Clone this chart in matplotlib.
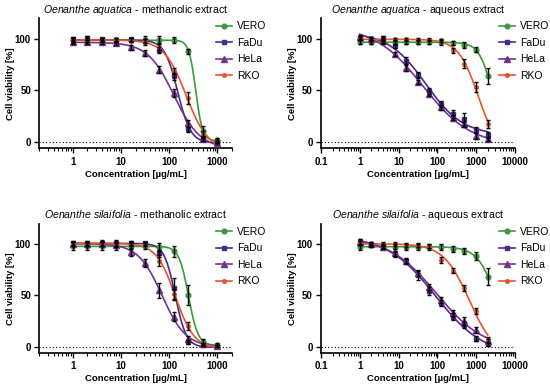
import numpy as np
import matplotlib
matplotlib.use('Agg')
import matplotlib.pyplot as plt
from matplotlib import font_manager
from matplotlib.lines import Line2D
from matplotlib.ticker import LogLocator, FuncFormatter, NullFormatter

names = {f.name for f in font_manager.fontManager.ttflist}
narrow = 'Liberation Sans Narrow' if 'Liberation Sans Narrow' in names else 'Liberation Sans'
title_size = 8.5 if narrow == 'Liberation Sans Narrow' else 7.6
plt.rcParams['font.family'] = ['Liberation Sans', 'DejaVu Sans']
plt.rcParams['mathtext.fontset'] = 'custom'
plt.rcParams['mathtext.rm'] = narrow
plt.rcParams['mathtext.it'] = narrow + ':italic'

# concentrations (µg/mL)
conc_meth = [1, 2, 4, 8, 16, 31.25, 62.5, 125, 250, 500, 1000]
conc_aq = [1, 2, 4, 8, 16, 31.25, 62.5, 125, 250, 500, 1000, 2000]

cell_lines = ['VERO', 'FaDu', 'HeLa', 'RKO']
colors = ['#3b9a3b', '#4a2a8a', '#73338f', '#e9542c']
markers = ['o', 's', '^', 'o']
msizes = [3.4, 3.4, 3.8, 2.6]

titles = [('Oenanthe\\ aquatica', 'methanolic extract'),
          ('Oenanthe\\ aquatica', 'aqueous extract'),
          ('Oenanthe\\ silaifolia', 'methanolic extract'),
          ('Oenanthe\\ silaifolia', 'aqueous extract')]

# O. aquatica - methanolic
aq_meth_mean = [
    [98.5, 98.7, 98.7, 98.7, 98.7, 98.5, 99.0, 99.2, 88.0, 11.0, 2.0],
    [99.5, 101.0, 99.5, 98.5, 99.5, 97.5, 89.5, 63.5, 12.5, 2.5, 0.5],
    [97.0, 97.0, 96.8, 95.8, 92.0, 86.0, 70.0, 47.5, 18.0, 2.5, -1.0],
    [98.5, 98.5, 98.5, 98.5, 98.5, 97.5, 92.0, 69.0, 42.5, 7.5, 0.0],
]
aq_meth_sd = [
    [2.5, 2, 2, 2, 2, 4, 3.5, 3, 2.5, 5, 1.5],
    [2, 2, 1.5, 2, 1.5, 2, 3, 3, 2.5, 1.5, 1],
    [2, 2, 2, 2, 2.5, 3, 3.5, 4, 3, 1.5, 1],
    [2, 2, 2, 2, 2, 2, 3, 3, 6, 3, 1],
]

# O. aquatica - aqueous
aq_aq_mean = [
    [97.0, 97.0, 97.0, 97.0, 97.0, 97.0, 96.7, 96.5, 96.0, 94.0, 89.5, 64.0],
    [100.5, 100.0, 100.5, 93.0, 79.0, 65.0, 49.5, 37.0, 27.5, 22.0, 11.5, 7.0],
    [102.0, 100.0, 98.0, 85.0, 71.5, 58.5, 47.0, 33.5, 23.5, 17.0, 5.5, 3.0],
    [100.0, 99.5, 99.5, 99.5, 99.5, 99.3, 99.0, 98.5, 89.0, 76.0, 53.5, 17.5],
]
aq_aq_sd = [
    [2, 2, 2, 2, 2, 2, 2, 2, 2, 3, 2.5, 8],
    [2, 1.5, 2.5, 2, 3, 3, 3, 3, 4, 6, 3, 3],
    [2, 1.5, 2, 2, 3, 2, 2, 2.5, 2.5, 2, 3, 2],
    [1.5, 1.5, 1.5, 1.5, 1.5, 1.5, 1.5, 1.5, 2.5, 4, 5, 3.5],
]

# O. silaifolia - methanolic
sil_meth_mean = [
    [98.0, 98.0, 98.0, 98.0, 98.0, 98.0, 97.5, 93.0, 50.5, 5.0, 2.0],
    [101.0, 101.5, 101.5, 101.5, 101.5, 101.0, 91.0, 57.0, 5.0, 1.5, 1.0],
    [100.0, 100.0, 100.0, 99.5, 92.5, 82.0, 55.0, 29.5, 8.0, 2.5, 1.0],
    [100.5, 100.5, 100.5, 100.5, 100.0, 100.0, 84.0, 51.0, 20.5, 2.0, 0.5],
]
sil_meth_sd = [
    [4, 3.5, 4, 3.5, 3, 3, 4, 5, 10, 3, 1.5],
    [2, 2, 2.5, 3, 2, 1.5, 3, 10, 2, 1, 1],
    [2, 2, 2, 2, 4, 4, 7, 4, 3, 1.5, 1],
    [2, 2, 2, 2, 2, 2, 5, 5, 4, 1.5, 1],
]

# O. silaifolia - aqueous
sil_aq_mean = [
    [97.5, 99.0, 98.0, 97.5, 97.5, 97.5, 97.5, 97.0, 95.5, 93.0, 88.5, 68.5],
    [102.0, 100.0, 97.5, 90.5, 83.5, 69.5, 54.0, 43.0, 29.5, 21.0, 8.0, 3.0],
    [102.0, 100.0, 97.5, 91.0, 84.0, 72.0, 58.0, 46.0, 33.0, 25.5, 16.0, 6.0],
    [101.5, 100.5, 100.5, 100.0, 99.5, 99.0, 98.0, 85.0, 74.0, 57.0, 34.5, 7.0],
]
sil_aq_sd = [
    [3, 1.5, 2, 2.5, 3, 3, 3, 3, 3, 3, 4, 8],
    [3, 1.5, 2, 3, 2.5, 4, 4, 3, 3, 3, 2.5, 2],
    [3, 1.5, 2, 2.5, 2.5, 3, 3, 3, 3, 4, 3, 2],
    [2, 1.5, 2, 2, 2, 2, 2, 3, 2.5, 3, 3, 3],
]


def fit_4pl(x, y):
    """Least-squares 4-parameter logistic fit (grid over IC50/slope, linear top/bottom)."""
    x = np.asarray(x, float)
    y = np.asarray(y, float)
    logc = np.linspace(-1, 4.5, 221)
    hill = np.linspace(0.3, 7, 135)
    L, H = np.meshgrid(logc, hill)
    F = 1.0 / (1.0 + (x[None, None, :] / 10 ** L[..., None]) ** H[..., None])
    fm = F.mean(-1)
    ym = y.mean()
    var = F.var(-1) + 1e-12
    slope = ((F - fm[..., None]) * (y - ym)).mean(-1) / var
    bottom = np.clip(ym - slope * fm, -10, 15)
    span = (F * (y - bottom[..., None])).sum(-1) / ((F * F).sum(-1) + 1e-12)
    sse = ((bottom[..., None] + span[..., None] * F - y) ** 2).sum(-1)
    i = np.unravel_index(np.argmin(sse), sse.shape)
    return bottom[i], span[i], 10 ** L[i], H[i]


panels = [
    (conc_meth, aq_meth_mean, aq_meth_sd, (0.2, 2000)),
    (conc_aq, aq_aq_mean, aq_aq_sd, (0.1, 10000)),
    (conc_meth, sil_meth_mean, sil_meth_sd, (0.2, 2000)),
    (conc_aq, sil_aq_mean, sil_aq_sd, (0.1, 10000)),
]

fig = plt.figure(figsize=(5.5, 3.87), dpi=100)
rects = [
    [0.0715, 0.617, 0.350, 0.336],
    [0.5836, 0.617, 0.3527, 0.336],
    [0.0715, 0.088, 0.350, 0.334],
    [0.5836, 0.088, 0.3527, 0.334],
]

for k, (conc, means, sds, xlim) in enumerate(panels):
    ax = fig.add_axes(rects[k])
    x = np.array(conc, float)
    xs = np.logspace(np.log10(x.min()), np.log10(x.max()), 300)
    for j in range(4):
        b, s, ic, h = fit_4pl(x, means[j])
        ax.plot(xs, b + s / (1 + (xs / ic) ** h), color=colors[j], lw=1.2, zorder=2)
        ax.plot(x, means[j], ls='none', marker=markers[j], ms=msizes[j],
                color=colors[j], zorder=3)
        ax.errorbar(x, means[j], yerr=sds[j], fmt='none', ecolor='black',
                    elinewidth=1.0, capsize=1.6, capthick=1.0, zorder=4)
    ax.axhline(0, color='black', ls=(0, (1, 2)), lw=0.8, zorder=1)

    ax.set_xscale('log')
    ax.set_xlim(*xlim)
    ax.set_ylim(-6, 120)
    ax.set_yticks([0, 50, 100])
    ax.xaxis.set_major_locator(LogLocator(base=10, numticks=12))
    ax.xaxis.set_minor_locator(LogLocator(base=10, subs=np.arange(2, 10), numticks=12))
    ax.xaxis.set_major_formatter(FuncFormatter(lambda v, p: '%g' % v))
    ax.xaxis.set_minor_formatter(NullFormatter())
    ax.tick_params(which='major', length=3.5, width=1.0, labelsize=7, pad=2.5)
    ax.tick_params(which='minor', length=2.0, width=0.8)
    for lab in ax.get_xticklabels() + ax.get_yticklabels():
        lab.set_fontweight('bold')
    for side in ['top', 'right']:
        ax.spines[side].set_visible(False)
    for side in ['left', 'bottom']:
        ax.spines[side].set_linewidth(1.2)

    ax.set_xlabel('Concentration [µg/mL]', fontsize=6.8, fontweight='bold')
    ax.set_ylabel('Cell viability [%]', fontsize=6.8, fontweight='bold')
    ax.xaxis.set_label_coords(0.5, -0.165)
    ax.yaxis.set_label_coords(-0.125, 0.5)

    sp, ext = titles[k]
    ax.set_title(r'$\it{%s}$ - %s' % (sp, ext), fontsize=title_size, family=narrow, pad=4)

    handles = [Line2D([], [], color=colors[j], marker=markers[j], ms=msizes[j], lw=1.2)
               for j in range(4)]
    ax.legend(handles, cell_lines, loc='upper left', bbox_to_anchor=(0.92, 0.975),
              frameon=False, fontsize=7.5, handlelength=1.5, handletextpad=0.5,
              labelspacing=0.62, borderpad=0, borderaxespad=0)

plt.savefig('out.png', dpi=100)
